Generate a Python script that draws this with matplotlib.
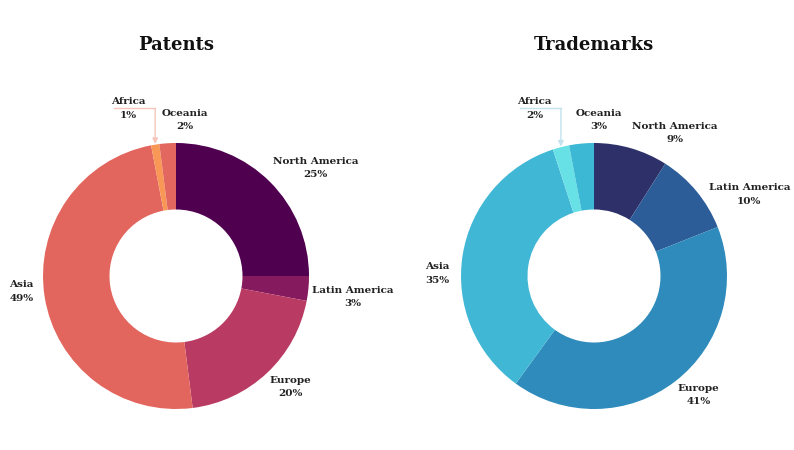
import matplotlib.pyplot as plt
import numpy as np

regions = ['North America', 'Latin America', 'Europe', 'Asia', 'Africa', 'Oceania']
patents = [25, 3, 20, 49, 1, 2]
trademarks = [9, 10, 41, 35, 2, 3]

patent_colors = ['#4f004f', '#861a5e', '#b93a62', '#e3665e', '#f99856', '#e1675f']
trademark_colors = ['#2e3169', '#2c5d98', '#2e8bbb', '#41b7d6', '#67e0e6', '#3cb8d5']

# small label nudges (px) to mimic the original label layout
patent_nudge = [(0, 0), (0, -8), (0, 0), (-7, 6)]
trademark_nudge = [(0, 0), (9, -17), (0, 0), (-9, -19)]

W, H = 794, 450
R = 133  # outer radius in px
SPAN = 1.6
FONT = 'DejaVu Serif'
LABEL = dict(fontsize=7.5, fontweight='bold', family=FONT, color='#222222',
             linespacing=1.6, multialignment='center')

fig = plt.figure(figsize=(W / 100, H / 100), dpi=100)


def donut(cx, cy, values, colors, title, line_color, nudge):
    size = 2 * SPAN * R
    ax = fig.add_axes([(cx - size / 2) / W, (H - cy - size / 2) / H, size / W, size / H])

    wedges, _ = ax.pie(values, colors=colors, startangle=90, counterclock=False,
                       wedgeprops=dict(width=0.5, linewidth=0))
    ax.set_xlim(-SPAN, SPAN)
    ax.set_ylim(-SPAN, SPAN)
    ax.set_aspect('equal')
    ax.axis('off')

    # regular labels: box corner/edge touching the mid-angle point
    for i in range(4):
        w = wedges[i]
        ang = np.deg2rad((w.theta1 + w.theta2) / 2)
        c, s = np.cos(ang), np.sin(ang)
        ha = 'left' if c > 0.1 else ('right' if c < -0.1 else 'center')
        va = 'center' if abs(s) < 0.3 else ('bottom' if s > 0 else 'top')
        dx, dy = nudge[i]
        ax.annotate(f"{regions[i]}\n{values[i]}%", xy=(1.03 * c, 1.03 * s),
                    xytext=(dx * 0.72, dy * 0.72), textcoords='offset points',
                    ha=ha, va=va, annotation_clip=False, **LABEL)

    # Oceania label sits above its slice, pushed right
    oc = wedges[5]
    ang = np.deg2rad((oc.theta1 + oc.theta2) / 2)
    ax.text(np.cos(ang) + 0.13, 1.17, f"{regions[5]}\n{values[5]}%",
            ha='center', va='center', clip_on=False, **LABEL)

    # Africa label with an elbow connector
    af = wedges[4]
    ang = np.deg2rad((af.theta1 + af.theta2) / 2)
    tipx, tipy = np.cos(ang), np.sin(ang)
    ax.text(tipx - 0.2, 1.26, f"{regions[4]}\n{values[4]}%",
            ha='center', va='center', clip_on=False, zorder=3, **LABEL)
    ax.plot([tipx - 0.31, tipx], [1.26, 1.26], color=line_color, lw=1,
            clip_on=False, zorder=2)
    ax.annotate('', xy=(tipx, tipy + 0.005), xytext=(tipx, 1.26),
                arrowprops=dict(arrowstyle='-|>', color=line_color, lw=1,
                                mutation_scale=8, shrinkA=0, shrinkB=0,
                                facecolor='white'),
                annotation_clip=False)

    fig.text(cx / W, 1 - 45 / H, title, ha='center', va='center', fontsize=13,
             fontweight='bold', family=FONT, color='#111111')


donut(176, 276, patents, patent_colors, 'Patents', '#f7c6ba', patent_nudge)
donut(594, 276, trademarks, trademark_colors, 'Trademarks', '#c3e2ee', trademark_nudge)

fig.savefig('out.png', dpi=100)
